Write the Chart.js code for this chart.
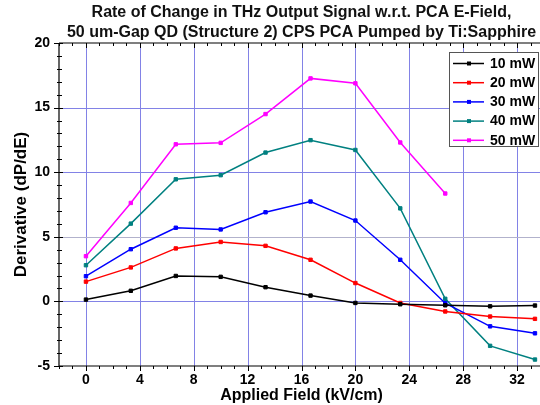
<!DOCTYPE html>
<html>
<head>
<meta charset="utf-8">
<script src="https://cdn.jsdelivr.net/npm/chart.js@4.4.1/dist/chart.umd.min.js"></script>
<style>
  html, body { margin: 0; padding: 0; overflow: hidden; background: #fff; }
  #canvasDiv { position: relative; width: 550px; height: 405px; }
</style>
</head>
<body>
<div id="canvasDiv"><canvas id="myChart"></canvas></div>
<script>
// applied field (kV/cm) for every measured point
let fieldValues = [0, 3.33, 6.67, 10, 13.33, 16.67, 20, 23.33, 26.67, 30, 33.33];

let seriesNames = ["10 mW", "20 mW", "30 mW", "40 mW", "50 mW"];
let seriesColors = ["#000000", "#ff0000", "#0000ff", "#008080", "#ff00ff"];

// dP/dE for each pump power
let p10 = [0.14, 0.82, 1.97, 1.9, 1.1, 0.45, -0.12, -0.22, -0.3, -0.38, -0.32];
let p20 = [1.53, 2.63, 4.1, 4.6, 4.3, 3.22, 1.42, -0.12, -0.78, -1.17, -1.35];
let p30 = [1.95, 4.04, 5.7, 5.57, 6.9, 7.73, 6.26, 3.22, -0.14, -1.93, -2.47];
let p40 = [2.8, 6.02, 9.45, 9.77, 11.52, 12.48, 11.72, 7.2, 0.2, -3.44, -4.5];
let p50 = [3.5, 7.62, 12.16, 12.27, 14.5, 17.26, 16.88, 12.3, 8.35];

let xMin = -2, xMax = 34, xMajor = 4;
let yMin = -5, yMax = 20, yMajor = 5;

let titleLines = [
    "Rate of Change in THz Output Signal w.r.t. PCA E-Field,",
    "50 um-Gap QD (Structure 2) CPS PCA Pumped by Ti:Sapphire"
];

const FONT = "'Liberation Sans', Arial, sans-serif";
const GRID = "#8282e6";

function makeSet(name, color, values) {
    let pts = [];
    for (let i = 0; i < values.length; i++) {
        pts.push({x: fieldValues[i], y: values[i]});
    }
    return {
        label: name,
        data: pts,
        borderColor: color,
        backgroundColor: color,
        borderWidth: 1.5,
        pointStyle: "rect",
        pointRadius: 2.4,
        pointBorderWidth: 1,
        tension: 0
    };
}

// grid under the curves; frame, tick marks, title and legend on top
const decorations = {
    id: "decorations",
    beforeDatasetsDraw(chart) {
        let ctx = chart.ctx;
        let a = chart.chartArea;
        let xs = chart.scales.x, ys = chart.scales.y;
        ctx.save();
        ctx.lineWidth = 1;
        for (let v = xMin + 1; v < xMax; v++) {
            if (v % xMajor !== 0) continue;
            let px = Math.round(xs.getPixelForValue(v)) + 0.5;
            ctx.strokeStyle = GRID;
            ctx.beginPath();
            ctx.moveTo(px, a.top); ctx.lineTo(px, a.bottom);
            ctx.stroke();
        }
        for (let v = yMin + 1; v < yMax; v++) {
            if (v % yMajor !== 0) continue;
            let py = Math.round(ys.getPixelForValue(v)) + 0.5;
            ctx.strokeStyle = v === 5 ? "#b2b2cc" : GRID;
            ctx.beginPath();
            ctx.moveTo(a.left, py); ctx.lineTo(a.right, py);
            ctx.stroke();
        }
        ctx.restore();
    },
    afterDraw(chart) {
        let ctx = chart.ctx;
        let a = chart.chartArea;
        let xs = chart.scales.x, ys = chart.scales.y;
        ctx.save();
        ctx.strokeStyle = "#000";
        ctx.lineWidth = 1.2;
        ctx.beginPath();
        ctx.moveTo(a.left, a.top); ctx.lineTo(a.left, a.bottom);
        ctx.moveTo(a.left, a.bottom); ctx.lineTo(a.right, a.bottom);
        ctx.moveTo(a.left, a.top); ctx.lineTo(a.right, a.top);
        ctx.stroke();

        ctx.lineWidth = 1;
        ctx.beginPath();
        for (let v = xMin; v <= xMax; v++) {
            let px = Math.round(xs.getPixelForValue(v)) + 0.5;
            let big = v % xMajor === 0;
            ctx.moveTo(px, a.bottom); ctx.lineTo(px, a.bottom + (big ? 5 : 3));
            ctx.moveTo(px, a.top); ctx.lineTo(px, a.top + (big ? 5 : 3));
        }
        for (let v = yMin; v <= yMax; v++) {
            let py = Math.round(ys.getPixelForValue(v)) + 0.5;
            let big = v % yMajor === 0;
            ctx.moveTo(a.left - (big ? 5 : 2), py); ctx.lineTo(a.left + (big ? 4 : 3), py);
        }
        ctx.stroke();

        // title
        ctx.fillStyle = "#111";
        ctx.font = "bold 16px " + FONT;
        ctx.textAlign = "center";
        ctx.textBaseline = "middle";
        let cx = (a.left + a.right) / 2;
        ctx.fillText(titleLines[0], cx, 13);
        ctx.fillText(titleLines[1], cx, 33);

        // legend
        let bx = 449.5, by = 52.5, bw = 89, bh = 94;
        ctx.fillStyle = "#fff";
        ctx.fillRect(bx, by, bw, bh);
        ctx.strokeStyle = "#555";
        ctx.strokeRect(bx, by, bw, bh);
        ctx.textAlign = "left";
        ctx.font = "bold 14px " + FONT;
        chart.data.datasets.forEach((ds, i) => {
            let ry = 63.5 + i * 19.2;
            ctx.strokeStyle = ds.borderColor;
            ctx.lineWidth = 1.5;
            ctx.beginPath();
            ctx.moveTo(453, ry); ctx.lineTo(484, ry);
            ctx.stroke();
            ctx.fillStyle = ds.borderColor;
            ctx.fillRect(467, ry - 2, 4, 4);
            ctx.fillStyle = "#000";
            ctx.fillText(ds.label, 490, ry + 0.5);
        });
        ctx.restore();
    }
};

new Chart("myChart", {
    type: "line",
    data: {
        datasets: [
            makeSet(seriesNames[0], seriesColors[0], p10),
            makeSet(seriesNames[1], seriesColors[1], p20),
            makeSet(seriesNames[2], seriesColors[2], p30),
            makeSet(seriesNames[3], seriesColors[3], p40),
            makeSet(seriesNames[4], seriesColors[4], p50)
        ]
    },
    options: {
        responsive: true,
        maintainAspectRatio: false,
        animation: false,
        layout: {padding: {top: 43, right: 0, left: 0, bottom: 0}},
        plugins: {
            legend: {display: false},
            title: {display: false},
            tooltip: {enabled: false}
        },
        scales: {
            x: {
                type: "linear",
                min: xMin,
                max: xMax,
                border: {display: false},
                grid: {display: false, drawTicks: false},
                ticks: {
                    stepSize: 1,
                    autoSkip: false,
                    maxRotation: 0,
                    padding: 6,
                    color: "#000",
                    font: {family: FONT, size: 14, weight: "bold"},
                    callback: v => v % xMajor === 0 ? v : ""
                },
                title: {
                    display: true,
                    text: "Applied Field (kV/cm)",
                    color: "#000",
                    font: {family: FONT, size: 16, weight: "bold"},
                    padding: {top: 0, bottom: 0}
                },
                afterFit: s => { s.height = 39; }
            },
            y: {
                min: yMin,
                max: yMax,
                border: {display: false},
                grid: {display: false, drawTicks: false},
                ticks: {
                    stepSize: 1,
                    autoSkip: false,
                    padding: 9,
                    color: "#000",
                    font: {family: FONT, size: 14, weight: "bold"},
                    callback: v => v % yMajor === 0 ? v : ""
                },
                title: {
                    display: true,
                    text: "Derivative (dP/dE)",
                    color: "#000",
                    font: {family: FONT, size: 17, weight: "bold"},
                    padding: {top: 11, bottom: 0}
                },
                afterFit: s => { s.width = 59; }
            }
        }
    },
    plugins: [decorations]
});
</script>
</body>
</html>
